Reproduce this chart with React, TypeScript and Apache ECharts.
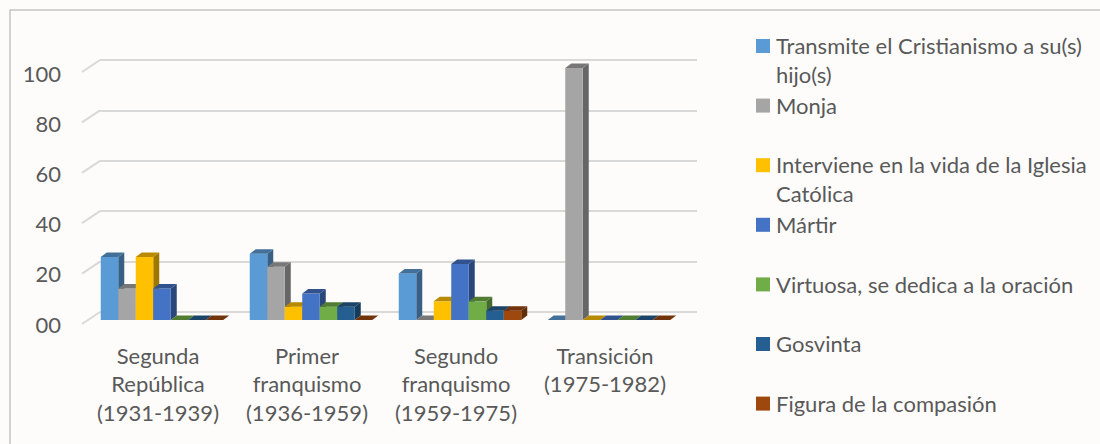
import React, { useEffect, useRef } from "react";
import * as echarts from "echarts";

const categories = [
  "Segunda\nRepública\n(1931-1939)",
  "Primer\nfranquismo\n(1936-1959)",
  "Segundo\nfranquismo\n(1959-1975)",
  "Transición\n(1975-1982)",
];
const seriesNames = [
  "Transmite el Cristianismo a su(s) hijo(s)",
  "Monja",
  "Interviene en la vida de la Iglesia Católica",
  "Mártir",
  "Virtuosa, se dedica a la oración",
  "Gosvinta",
  "Figura de la compasión",
];
const legendLabels = [
  "Transmite el Cristianismo a su(s)\nhijo(s)",
  "Monja",
  "Interviene en la vida de la Iglesia\nCatólica",
  "Mártir",
  "Virtuosa, se dedica a la oración",
  "Gosvinta",
  "Figura de la compasión",
];
const colors = ["#5B9BD5", "#A5A5A5", "#FFC000", "#4472C4", "#70AD47", "#255E91", "#9E480E"];

const transmite = [25, 26.3, 18.5, 0];
const monja = [12.5, 21.1, 0, 100];
const interviene = [25, 5.3, 7.4, 0];
const martir = [12.5, 10.5, 22.2, 0];
const virtuosa = [0, 5.3, 7.4, 0];
const gosvinta = [0, 5.3, 3.7, 0];
const compasion = [0, 0, 3.7, 0];
const seriesValues = [transmite, monja, interviene, martir, virtuosa, gosvinta, compasion];

const yTicks = [0, 20, 40, 60, 80, 100];
const yTickLabels = ["00", "20", "40", "60", "80", "100"];

const FONT = "Lato";
const FS = 22;
const TEXT = "#595959";
const GRIDC = "#d9d9d9";

function shade(hex: string, f: number) {
  const n = parseInt(hex.slice(1), 16);
  const r = Math.round(((n >> 16) & 255) * f);
  const g = Math.round(((n >> 8) & 255) * f);
  const b = Math.round((n & 255) * f);
  return `rgb(${r},${g},${b})`;
}

export default function App() {
  const ref = useRef<HTMLDivElement>(null);
  useEffect(() => {
    document.body.style.margin = "0";
    document.body.style.background = "#fdfcfb";
    const chart = echarts.init(ref.current!, null, { renderer: "svg" });
    const nS = seriesNames.length;

    const barSeries = seriesValues.map((vals, s) => ({
      type: "custom",
      name: seriesNames[s],
      xAxisIndex: 1,
      yAxisIndex: 1,
      z: 5,
      data: vals.map((v, c) => [c, v]),
      renderItem: (params: any, api: any) => {
        const c = api.value(0);
        const v = api.value(1);
        const top = api.coord([c, v]);
        const base = api.coord([c, 0]);
        const band = api.size([1, 0])[0];
        const bw = band * (17.5 / 149);
        const dx = 6;
        const dy = -4.5;
        const x0 = top[0] - (bw * nS) / 2 + s * bw;
        const x1 = x0 + bw;
        const yT = top[1];
        const yB = base[1];
        const col = colors[s];
        return {
          type: "group",
          children: [
            {
              type: "polygon",
              shape: { points: [[x1, yB], [x1 + dx, yB + dy], [x1 + dx, yT + dy], [x1, yT]] },
              style: { fill: shade(col, 0.62) },
            },
            {
              type: "polygon",
              shape: { points: [[x0, yB], [x1, yB], [x1, yT], [x0, yT]] },
              style: { fill: col },
            },
            {
              type: "polygon",
              shape: { points: [[x0, yT], [x1, yT], [x1 + dx, yT + dy], [x0 + dx, yT + dy]] },
              style: { fill: shade(col, 0.72) },
            },
          ],
        };
      },
    }));

    const legendGraphics: any[] = [];
    legendLabels.forEach((lab, i) => {
      const cy = 46 + i * 59.6;
      legendGraphics.push({
        type: "rect",
        shape: { x: 756, y: cy - 7, width: 14, height: 14 },
        style: { fill: colors[i] },
      });
      legendGraphics.push({
        type: "text",
        x: 776,
        y: cy - 14.5,
        style: {
          text: lab,
          fill: TEXT,
          fontSize: FS,
          fontFamily: FONT,
          lineHeight: 28.5,
          verticalAlign: "top",
          align: "left",
        },
      });
    });

    chart.setOption({
      animation: false,
      backgroundColor: "#fdfcfb",
      grid: [
        { left: 100, top: 60, width: 597, height: 252 },
        { left: 87.5, top: 68, width: 596, height: 252 },
        { left: 83.5, top: 73, width: 596, height: 251 },
      ],
      xAxis: [
        { type: "category", gridIndex: 0, data: categories, show: false },
        { type: "category", gridIndex: 1, data: categories, show: false },
        {
          type: "category",
          gridIndex: 2,
          data: categories,
          axisLine: { show: false },
          axisTick: { show: false },
          axisLabel: {
            interval: 0,
            color: TEXT,
            fontSize: FS,
            fontFamily: FONT,
            lineHeight: 28.5,
            margin: 17,
          },
        },
      ],
      yAxis: [
        {
          type: "value",
          gridIndex: 0,
          min: 0,
          max: 100,
          interval: 20,
          axisLabel: { show: false },
          axisLine: { show: false },
          axisTick: { show: false },
          splitLine: { show: true, lineStyle: { color: GRIDC, width: 2 } },
        },
        { type: "value", gridIndex: 1, min: 0, max: 100, interval: 20, show: false },
        {
          type: "value",
          gridIndex: 2,
          min: 0,
          max: 100,
          interval: 20,
          axisLine: { show: false },
          axisTick: { show: false },
          splitLine: { show: false },
          axisLabel: {
            color: TEXT,
            fontSize: FS,
            fontFamily: FONT,
            margin: 22.5,
            formatter: (v: number) => yTickLabels[yTicks.indexOf(v)] ?? String(v),
          },
        },
      ],
      series: [
        {
          type: "custom",
          xAxisIndex: 0,
          yAxisIndex: 0,
          z: 1,
          silent: true,
          data: yTicks.map((v) => [0, v]),
          renderItem: (params: any, api: any) => {
            const y = api.coord([0, api.value(1)])[1];
            const cs = params.coordSys;
            return {
              type: "line",
              shape: { x1: cs.x - 18, y1: y + 12, x2: cs.x, y2: y },
              style: { stroke: GRIDC, lineWidth: 2 },
            };
          },
        },
        ...barSeries,
      ],
      graphic: [
        {
          type: "rect",
          shape: { x: 10, y: 10, width: 1200, height: 600 },
          style: { fill: "none", stroke: "#c4c4c4", lineWidth: 1.5 },
          z: 0,
        },
        ...legendGraphics,
      ],
    });
    return () => chart.dispose();
  }, []);
  return <div ref={ref} style={{ width: 1100, height: 444 }} />;
}
